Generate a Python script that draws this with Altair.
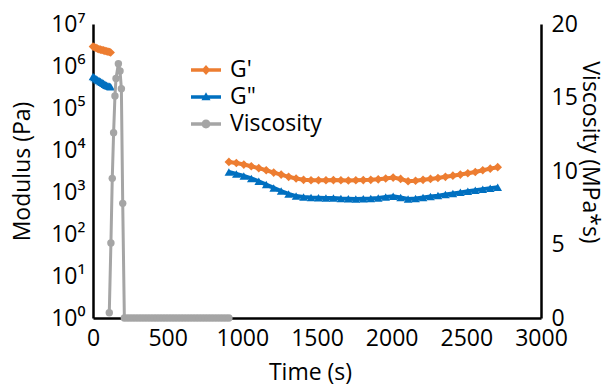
import altair as alt
import pandas as pd

FONT = "Open Sans"
FS = 23
ORANGE = "#ED7D31"
BLUE = "#0070C0"
GRAY = "#A5A5A5"

# ---------------- data ----------------
t_early = [0, 10, 20, 30, 40, 50, 60, 70, 80, 90, 100, 110, 118]
gp_early = [2.9e6, 2.8e6, 2.7e6, 2.6e6, 2.5e6, 2.45e6, 2.4e6, 2.35e6, 2.3e6, 2.25e6, 2.2e6, 2.15e6, 2.1e6]
gpp_early = [5.6e5, 5.3e5, 5.0e5, 4.7e5, 4.5e5, 4.3e5, 4.1e5, 3.9e5, 3.7e5, 3.5e5, 3.4e5, 3.3e5, 3.2e5]

t_late = [910, 960, 1010, 1060, 1110, 1160, 1210, 1260, 1310, 1360, 1410, 1460, 1510,
          1560, 1610, 1660, 1710, 1760, 1810, 1860, 1910, 1960, 2010, 2060, 2110, 2160,
          2210, 2260, 2310, 2360, 2410, 2460, 2510, 2560, 2610, 2660, 2710]
gp_late = [5200, 4900, 4500, 4100, 3700, 3300, 2900, 2600, 2300, 2100, 1950, 1900, 1900,
           1900, 1920, 1900, 1880, 1900, 1920, 1950, 2000, 2100, 2200, 2050, 1800, 1850,
           1950, 2050, 2150, 2300, 2450, 2600, 2800, 3000, 3300, 3600, 3900]
gpp_late = [3000, 2700, 2400, 2100, 1800, 1500, 1250, 1050, 900, 800, 760, 740, 730,
            720, 720, 700, 690, 680, 690, 700, 720, 760, 790, 740, 680, 700,
            740, 780, 820, 870, 920, 980, 1040, 1100, 1170, 1230, 1300]

t_visc = [109, 120, 129, 138, 147, 154, 170, 181, 190, 199,
          210, 230, 250, 270, 290, 310, 330, 350, 370, 390, 410, 430, 450, 470, 490,
          510, 530, 550, 570, 590, 610, 630, 650, 670, 690, 710, 730, 750, 770, 790,
          810, 830, 850, 870, 890, 910]
visc = [0.36, 5.1, 9.5, 12.6, 15.1, 16.3, 17.3, 16.8, 15.6, 7.8,
        0, 0, 0, 0, 0, 0, 0, 0, 0, 0, 0, 0, 0, 0, 0,
        0, 0, 0, 0, 0, 0, 0, 0, 0, 0, 0, 0, 0, 0, 0,
        0, 0, 0, 0, 0, 0]

legend_names = ["G'", 'G"', "Viscosity"]
legend_colors = [ORANGE, BLUE, GRAY]

x_ticks = [0, 500, 1000, 1500, 2000, 2500, 3000]
left_ticks = [1, 10, 100, 1e3, 1e4, 1e5, 1e6, 1e7]
right_ticks = [0, 5, 10, 15, 20]

# ---------------- tables ----------------
ne, nl = len(t_early), len(t_late)
mod = pd.DataFrame({
    "time": t_early + t_late + t_early + t_late,
    "value": gp_early + gp_late + gpp_early + gpp_late,
    "code": ["gp"] * (ne + nl) + ["gpp"] * (ne + nl),
    "seg": ["a"] * ne + ["b"] * nl + ["a"] * ne + ["b"] * nl,
})
vdf = pd.DataFrame({"time": t_visc, "visc": visc})
leg_df = pd.DataFrame({"name": legend_names})

common_axis = dict(
    grid=False, ticks=False, domainColor="black", domainWidth=2.5,
    labelFont=FONT, labelFontSize=FS, labelColor="black",
    titleFont=FONT, titleFontSize=FS, titleFontWeight="normal", titleColor="black",
    labelOverlap=False,
)

x_enc = alt.X("time:Q", scale=alt.Scale(domain=[0, 3000], nice=False),
              axis=alt.Axis(values=x_ticks, format="d", title="Time (s)", labelFlush=False,
                            labelPadding=9, titleX=217, titleY=54,
                            titleAlign="center", titleBaseline="middle", **common_axis))

y_left = alt.Y("value:Q",
               scale=alt.Scale(type="log", domain=[1, 1e7], nice=False),
               axis=alt.Axis(values=left_ticks,
                             labelExpr="'10' + ['\u2070','\u00b9','\u00b2','\u00b3','\u2074','\u2075','\u2076','\u2077'][round(log(datum.value)/LN10)]",
                             title="Modulus (Pa)", labelPadding=8,
                             titleAngle=-90, titleX=-71, titleY=147,
                             titleAlign="center", titleBaseline="middle", **common_axis))

y_right = alt.Y("visc:Q",
                scale=alt.Scale(domain=[0, 20], nice=False),
                axis=alt.Axis(orient="right", values=right_ticks,
                              title="Viscosity (MPa*s)", labelPadding=10,
                              titleAngle=90, titleX=48, titleY=128,
                              titleAlign="center", titleBaseline="middle", **common_axis))

base_mod = alt.Chart(mod)


def series_layers(code, color, shape):
    d = base_mod.transform_filter(alt.datum.code == code)
    line = d.mark_line(color=color, strokeWidth=4).encode(x=x_enc, y=y_left, detail="seg:N")
    pts = d.mark_point(shape=shape, filled=True, color=color, size=75, opacity=1).encode(x=x_enc, y=y_left)
    return [line, pts]


# legend symbols: a short line with the marker on it
sym_paths = [
    "M-1.25,-0.14L1.25,-0.14L1.25,0.14L-1.25,0.14Z M0,-0.42L0.37,0L0,0.42L-0.37,0Z",
    "M-1.25,-0.14L1.25,-0.14L1.25,0.14L-1.25,0.14Z M0,-0.4L0.38,0.28L-0.38,0.28Z",
    "M-1.25,-0.14L1.25,-0.14L1.25,0.14L-1.25,0.14Z M-0.37,0A0.37,0.37 0 1,1 0.37,0A0.37,0.37 0 1,1 -0.37,0Z",
]
leg = alt.Legend(title=None, orient="none", legendX=101, legendY=34, padding=0,
                 symbolSize=576, symbolStrokeWidth=0, labelFont=FONT, labelFontSize=FS,
                 labelColor="black", labelOffset=12, rowPadding=3, labelLimit=300)
legend_layer = alt.Chart(leg_df).transform_filter("false").mark_point(filled=True, opacity=1).encode(
    color=alt.Color("name:N", scale=alt.Scale(domain=legend_names, range=legend_colors), legend=leg),
    shape=alt.Shape("name:N", scale=alt.Scale(domain=legend_names, range=sym_paths), legend=leg),
)

left = alt.layer(*series_layers("gp", ORANGE, "diamond"),
                 *series_layers("gpp", BLUE, "triangle-up"),
                 legend_layer)

vbase = alt.Chart(vdf)
right = alt.layer(
    vbase.mark_line(color=GRAY, strokeWidth=3).encode(x=x_enc, y=y_right),
    vbase.mark_point(shape="circle", filled=True, color=GRAY, size=55, opacity=1).encode(x=x_enc, y=y_right),
)

chart = alt.layer(left, right).resolve_scale(y="independent").properties(
    width=448, height=294,
    autosize=alt.AutoSizeParams(type="none"),
    padding={"left": 93, "top": 24, "right": 67, "bottom": 68},
    background="white",
).configure_view(stroke=None)

chart.save("out.html", embed_options={"renderer": "svg", "actions": False})
